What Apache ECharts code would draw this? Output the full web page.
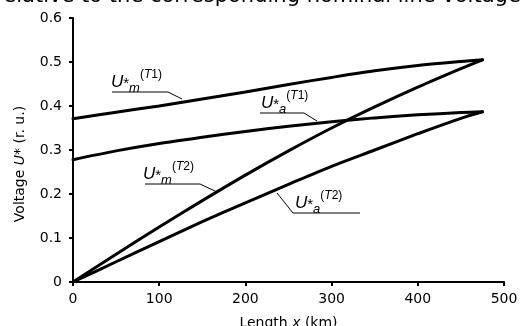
<!DOCTYPE html>
<html>
<head>
<meta charset="utf-8">
<script src="https://cdn.jsdelivr.net/npm/echarts@6/dist/echarts.min.js"></script>
<style>
  html, body { margin: 0; padding: 0; background: #fff; }
  #chart { width: 520px; height: 326px; }
</style>
</head>
<body>
<div id="chart"></div>
<script>
// distance along the line (km)
const lengthKm = [0, 50, 100, 150, 200, 250, 300, 350, 400, 450, 475];
// voltages, r. u.
const umT1 = [0.371, 0.386, 0.400, 0.416, 0.432, 0.449, 0.465, 0.480, 0.492, 0.501, 0.505];
const uaT1 = [0.278, 0.298, 0.315, 0.329, 0.342, 0.354, 0.364, 0.373, 0.380, 0.385, 0.387];
const umT2 = [0, 0.063, 0.125, 0.185, 0.243, 0.298, 0.350, 0.398, 0.443, 0.485, 0.505];
const uaT2 = [0, 0.046, 0.092, 0.137, 0.180, 0.222, 0.263, 0.300, 0.337, 0.372, 0.387];
const yTicks = ['0', '0.1', '0.2', '0.3', '0.4', '0.5', '0.6'];

const chart = echarts.init(document.getElementById('chart'));
const FONT = '"DejaVu Sans", sans-serif';
const LFONT = '"Liberation Sans", Arial, sans-serif';

function pairs(ys) {
  return lengthKm.map((x, i) => [x, ys[i]]);
}

function curve(name, ys) {
  return {
    name: name,
    type: 'line',
    data: pairs(ys),
    smooth: 0.3,
    showSymbol: false,
    lineStyle: { color: '#000', width: 3, cap: 'round' },
    silent: true
  };
}

// annotation label like U*m(T1) with a leader line
function annot(left, bottom, sub, num, leader) {
  return [
    {
      type: 'text',
      left: left,
      top: bottom - 22,
      style: {
        text: '{u|U}{st|*}{sb|' + sub + '}{sp|(}{spi|T}{sp|' + num + ')}',
        rich: {
          u: { font: 'italic 17px ' + LFONT, fill: '#000', lineHeight: 22, verticalAlign: 'bottom' },
          st: { font: '15px ' + LFONT, fill: '#000', lineHeight: 22, verticalAlign: 'bottom' },
          sb: { font: 'italic 13px ' + LFONT, fill: '#000', lineHeight: 22, verticalAlign: 'bottom', padding: [0, 0, -4, 0] },
          sp: { font: '12px ' + LFONT, fill: '#000', lineHeight: 22, verticalAlign: 'top' },
          spi: { font: 'italic 12px ' + LFONT, fill: '#000', lineHeight: 22, verticalAlign: 'top' }
        }
      }
    },
    {
      type: 'polyline',
      shape: { points: leader },
      style: { stroke: '#000', lineWidth: 1, fill: null }
    }
  ];
}

const option = {
  animation: false,
  grid: { left: 73, right: 16, top: 18, bottom: 44, outerBoundsMode: 'none', containLabel: false },
  xAxis: {
    type: 'value',
    min: 0,
    max: 500,
    interval: 100,
    name: 'Length {i|x} (km)',
    nameLocation: 'middle',
    nameGap: 34,
    nameTextStyle: {
      color: '#000', fontSize: 14, fontFamily: FONT,
      rich: { i: { fontStyle: 'italic', fontSize: 14, fontFamily: FONT, color: '#000' } }
    },
    axisLine: { lineStyle: { color: '#000', width: 2 } },
    axisTick: { show: true, length: 4, lineStyle: { color: '#000', width: 2 } },
    axisLabel: { color: '#000', fontSize: 14, fontFamily: FONT, margin: 10 },
    splitLine: { show: false }
  },
  yAxis: {
    type: 'value',
    min: 0,
    max: 0.6,
    interval: 0.1,
    axisLine: { show: true, lineStyle: { color: '#000', width: 2 } },
    axisTick: { show: true, length: 4, lineStyle: { color: '#000', width: 2 } },
    axisLabel: {
      color: '#000', fontSize: 14, fontFamily: FONT, margin: 11,
      formatter: (v) => yTicks[Math.round(v * 10)]
    },
    splitLine: { show: false }
  },
  series: [
    curve('Um T1', umT1),
    curve('Ua T1', uaT1),
    curve('Um T2', umT2),
    curve('Ua T2', uaT2)
  ],
  graphic: [
    {
      type: 'text',
      x: 258,
      y: -3,
      style: {
        text: 'relative to the corresponding nominal line voltage',
        font: '21px ' + FONT,
        fill: '#000',
        align: 'center',
        verticalAlign: 'middle'
      }
    },
    {
      type: 'text',
      x: 20,
      y: 164,
      rotation: Math.PI / 2,
      style: {
        text: 'Voltage {i|U}* (r. u.)',
        font: '14px ' + FONT,
        fill: '#000',
        align: 'center',
        verticalAlign: 'middle',
        rich: { i: { font: 'italic 14px ' + FONT, fill: '#000' } }
      }
    }
  ]
    .concat(annot(111, 91, 'm', 1, [[112, 92], [168, 92], [182, 99]]))
    .concat(annot(261, 112, 'a', 1, [[260, 113], [304, 113], [317, 121]]))
    .concat(annot(143, 183, 'm', 2, [[145, 184], [200, 184], [217, 192]]))
    .concat(annot(295, 212, 'a', 2, [[277, 193], [293, 213], [360, 213]]))
};

chart.setOption(option);
</script>
</body>
</html>
